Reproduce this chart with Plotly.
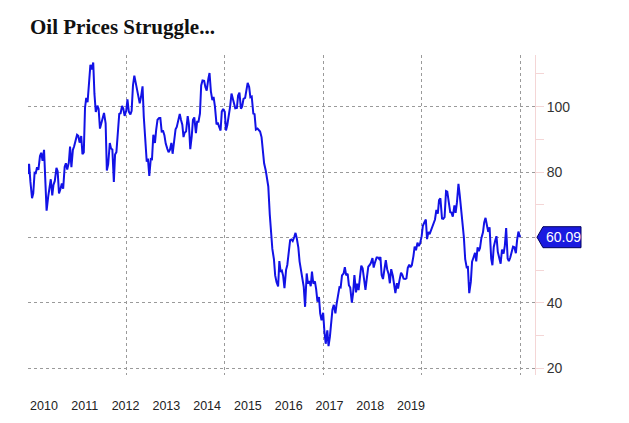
import plotly.graph_objects as go
import pandas as pd

title_text = "Oil Prices Struggle..."
years = list(range(2010, 2020))
year_labels = [str(y) for y in years]
y_tickvals = [20, 40, 60, 80, 100]
y_ticktext = ["20", "40", "", "80", "100"]
sample_days = [1, 10, 20]

p2010 = [79.4, 82.5, 77.0, 72.0, 73.5, 79.8, 79.7, 81.5, 80.7, 84.9, 85.9, 83.4,
         86.8, 76.8, 68.2, 72.6, 75.5, 77.8, 72.9, 76.1, 77.3, 81.3, 80.3, 73.5,
         75.0, 76.5, 74.9, 81.6, 82.7, 80.8, 82.9, 87.8, 81.5, 86.8, 87.8, 89.4]
p2011 = [91.4, 91.1, 89.0, 91.0, 85.5, 86.0, 99.6, 102.7, 101.4, 107.9, 112.8, 111.4,
         113.5, 103.9, 98.4, 100.3, 99.3, 93.3, 95.0, 96.2, 98.1, 94.9, 80.5, 82.4,
         88.9, 87.2, 86.9, 77.0, 85.4, 86.1, 92.2, 97.8, 98.0, 100.2, 99.4, 97.2]
p2012 = [98.8, 102.2, 98.5, 97.6, 98.7, 106.5, 109.5, 107.4, 105.6, 103.0, 101.0, 103.1,
         106.2, 97.0, 91.5, 83.2, 84.1, 78.8, 84.0, 83.9, 91.4, 88.9, 92.9, 96.0,
         96.5, 96.5, 92.4, 92.5, 91.3, 88.7, 87.1, 86.1, 86.8, 88.9, 85.6, 89.5]
p2013 = [93.1, 93.8, 95.6, 97.8, 96.0, 94.5, 90.7, 92.1, 92.4, 97.1, 94.6, 87.0,
         91.0, 96.0, 96.7, 91.9, 95.4, 95.4, 97.9, 106.5, 108.0, 107.9, 106.0, 104.9,
         108.5, 110.3, 104.7, 102.0, 103.0, 100.1, 94.6, 95.1, 93.9, 92.7, 98.5, 99.3]
p2014 = [98.4, 92.7, 94.4, 97.5, 100.1, 104.0, 102.6, 101.1, 99.5, 99.6, 103.4, 104.3,
         99.4, 100.0, 102.4, 102.7, 104.4, 107.3, 106.0, 102.9, 103.1, 97.9, 97.7, 93.0,
         93.3, 92.7, 92.4, 90.7, 85.8, 82.7, 80.5, 77.4, 75.6, 67.0, 61.0, 56.5]
p2015 = [53.3, 48.4, 46.4, 45.0, 52.8, 49.5, 49.8, 48.3, 44.5, 50.1, 51.6, 56.4,
         59.2, 59.4, 58.9, 60.2, 61.4, 59.6, 56.9, 52.7, 50.2, 46.2, 44.9, 38.8,
         49.0, 45.9, 46.7, 45.1, 49.6, 45.9, 46.6, 44.2, 40.4, 41.8, 36.8, 34.7]
p2016 = [37.0, 31.4, 27.5, 31.6, 26.8, 29.6, 34.4, 37.9, 39.4, 36.8, 39.7, 42.6,
         44.8, 44.7, 48.4, 49.0, 50.9, 48.4, 48.9, 45.4, 44.7, 40.1, 42.8, 48.5,
         43.2, 45.9, 43.9, 48.2, 51.4, 50.6, 46.7, 44.0, 47.5, 51.1, 51.5, 52.2]
p2017 = [53.7, 50.8, 52.4, 53.9, 53.9, 53.4, 54.0, 48.5, 47.3, 50.6, 53.1, 50.3,
         48.8, 46.0, 50.3, 48.3, 45.8, 43.0, 46.0, 44.4, 46.8, 49.2, 48.6, 47.4,
         47.3, 47.5, 50.7, 51.7, 50.9, 51.5, 54.3, 57.2, 56.1, 58.4, 57.4, 58.1]
p2018 = [60.4, 63.6, 64.5, 65.5, 59.5, 61.7, 61.0, 62.0, 63.5, 64.9, 65.5, 68.4,
         67.3, 71.4, 72.0, 65.8, 65.7, 66.2, 74.2, 74.0, 70.5, 67.7, 67.6, 66.4,
         69.8, 67.5, 70.8, 76.4, 73.2, 69.1, 63.7, 60.2, 53.4, 50.9, 51.0, 43.0]
p2019 = [46.5, 52.6, 53.8, 55.3, 52.7, 57.0, 55.8, 56.8, 59.8, 61.6, 64.6, 66.0,
         63.6, 61.7, 63.1, 53.5, 51.5, 57.1, 59.1, 60.4, 55.6, 53.9, 52.0, 56.3,
         55.1, 57.4, 62.9, 53.6, 52.8, 53.8, 56.2, 57.2, 57.0, 55.2, 59.2, 61.8]
last_date = "2020-01-01"
last_price = 60.09

yearly = [p2010, p2011, p2012, p2013, p2014, p2015, p2016, p2017, p2018, p2019]
dates, prices = [], []
for yr, vals in zip(years, yearly):
    i = 0
    for m in range(1, 13):
        for d in sample_days:
            dates.append(pd.Timestamp(yr, m, d))
            prices.append(vals[i])
            i += 1
dates.append(pd.Timestamp(last_date))
prices.append(last_price)

grid_col = "#9a9a9a"
pink = "#f4d6d6"

fig = go.Figure()
fig.add_trace(go.Scatter(x=dates, y=prices, mode="lines",
                         line=dict(color="#1212e6", width=2.0),
                         showlegend=False, hoverinfo="x+y"))
# carrier trace for the label axis
fig.add_trace(go.Scatter(x=years, y=[None] * len(years), xaxis="x2",
                         mode="markers", showlegend=False, hoverinfo="skip"))

fig.update_layout(
    width=629, height=423,
    margin=dict(l=20, r=102, t=47, b=56),
    paper_bgcolor="white", plot_bgcolor="white",
    title=dict(text=title_text, x=22 / 629, xanchor="left", xref="container",
               y=1 - 19 / 423, yanchor="middle", yref="container",
               font=dict(family="Liberation Serif", size=21, color="#111111",
                         weight="bold")),
    xaxis=dict(type="date", range=["2010-01-02", "2020-04-21"],
               showgrid=True, gridcolor=grid_col, griddash="dot", gridwidth=1,
               tick0="2012-01-01", dtick="M24", showticklabels=False,
               ticks="", zeroline=False, showline=False),
    xaxis2=dict(overlaying="x", anchor="y", side="bottom",
                range=[2009.6077, 2022.040], tickmode="array",
                tickvals=years, ticktext=year_labels, showgrid=False,
                zeroline=False, showline=False, ticks="outside", ticklen=19,
                tickcolor="rgba(0,0,0,0)",
                tickfont=dict(family="Liberation Sans", size=12.5, color="#222222")),
    yaxis=dict(side="right", range=[17.95, 115.8], tickmode="array",
               tickvals=y_tickvals, ticktext=y_ticktext,
               showgrid=True, gridcolor=grid_col, griddash="dot", gridwidth=1,
               zeroline=False, showline=True, linecolor=pink, linewidth=1,
               ticks="outside", ticklen=8, tickcolor=pink,
               minor=dict(dtick=10, tick0=0, ticks="outside", ticklen=8,
                          tickcolor=pink, showgrid=False),
               tickfont=dict(family="Liberation Sans", size=14, color="#333333")),
    shapes=[dict(type="path", xref="paper", yref="y",
                 xsizemode="pixel", ysizemode="pixel",
                 xanchor=1, yanchor=last_price,
                 path="M2,0 L8,10.5 L46,10.5 L46,-10.5 L8,-10.5 Z",
                 fillcolor="#1a1ae0", line=dict(color="#000060", width=1),
                 layer="above")],
    annotations=[dict(xref="paper", yref="y", x=1, y=last_price,
                      xanchor="left", yanchor="middle", xshift=9,
                      text=f"{last_price:.2f}", showarrow=False,
                      font=dict(family="Liberation Sans", size=14, color="white"))],
)

fig.write_html("out.html")
